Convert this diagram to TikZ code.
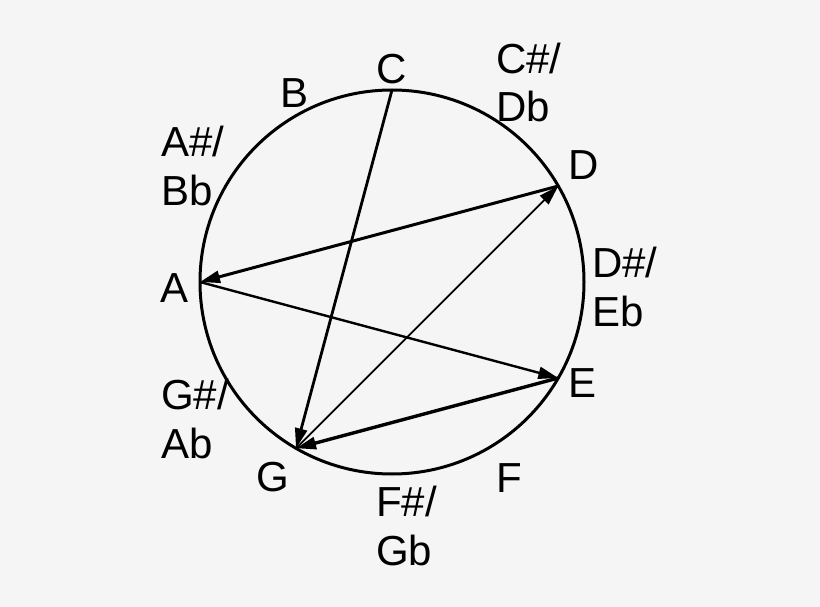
\documentclass[tikz,border=0pt]{standalone}
\usepackage{fontspec}
\setmainfont{Liberation Sans}
\usetikzlibrary{arrows.meta}
\definecolor{bg}{HTML}{F5F5F5}
\begin{document}
\begin{tikzpicture}[x=1pt,y=-1pt,
  lbl/.style={inner sep=0pt,font=\fontsize{42}{48.5}\selectfont},
  single/.style={lbl,anchor=base},
  double/.style={lbl,anchor=base west,align=left},
  conn/.style={draw=black,-{Triangle[length=20pt,width=12pt]}},
  ring/.style={draw=black,line width=3pt}]
\fill[bg] (0,0) rectangle (820,607);
\useasboundingbox (0,0) rectangle (820,607);
\coordinate (ctr) at (392,282);
\draw[ring] (ctr) circle[radius=192];
% note points on the circle
\coordinate (pC) at (392,90);
\coordinate (pD) at (558.3,186);
\coordinate (pE) at (558.3,378);
\coordinate (pG) at (296,448.3);
\coordinate (pA) at (200,282);
% labels (two-line labels anchored at the baseline of their second line)
\node[single] (lC) at (392,84) {C};
\node[single] (lB) at (295,108) {B};
\node[double] (lAs) at (161,205) {A\#/\\Bb};
\node[double] (lCs) at (496,122) {C\#/\\Db};
\node[single] (lD) at (584,180) {D};
\node[double] (lDs) at (592,326) {D\#/\\Eb};
\node[single] (lE) at (583,397) {E};
\node[single] (lF) at (509,492) {F};
\node[double] (lFs) at (376,565) {F\#/\\Gb};
\node[single] (lG) at (273,491) {G};
\node[double] (lGs) at (161,458) {G\#/\\Ab};
\node[single] (lA) at (175,302) {A};
% connectors
\draw[conn,line width=2.8pt] (pC) -- (pG);
\draw[conn,line width=1.8pt] (pG) -- (pD);
\draw[conn,line width=3pt] (pD) -- (pA);
\draw[conn,line width=2.4pt] (pA) -- (pE);
\draw[conn,line width=3.4pt] (pE) -- (pG);
\end{tikzpicture}
\end{document}
